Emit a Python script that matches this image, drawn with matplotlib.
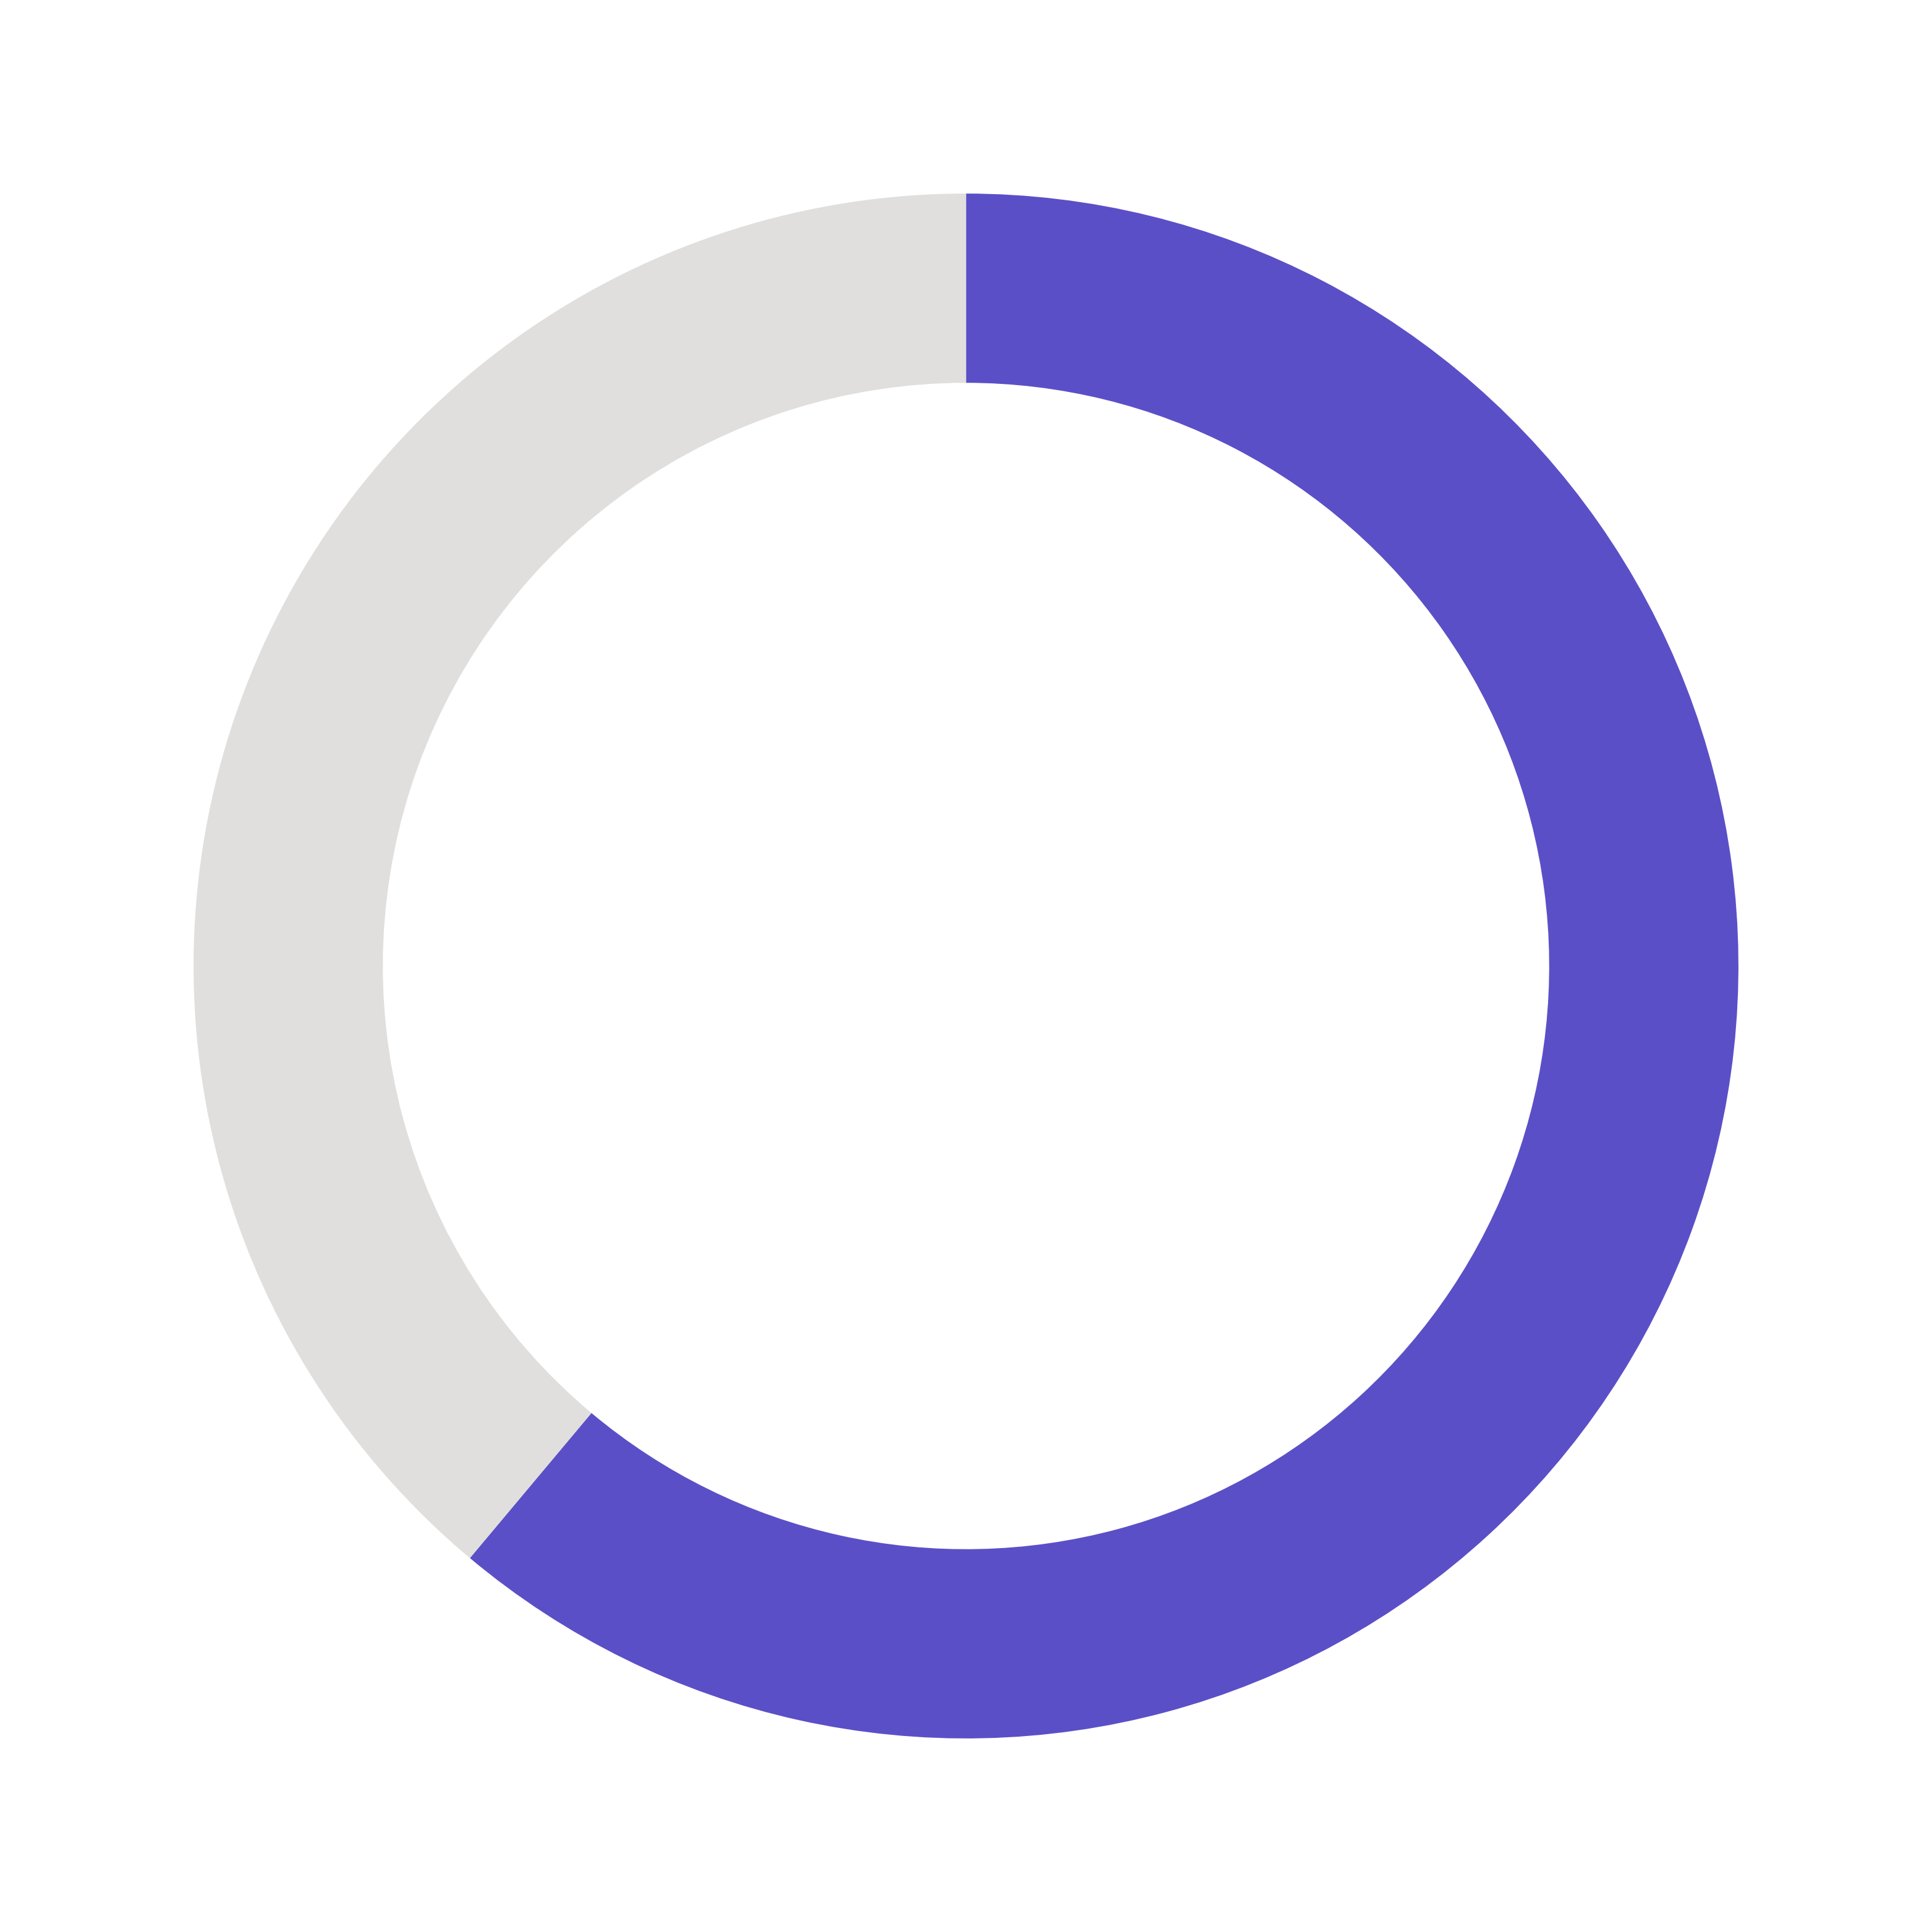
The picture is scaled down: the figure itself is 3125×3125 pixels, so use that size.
import matplotlib
matplotlib.use("Agg")
import matplotlib.pyplot as plt

labels = ["Done", "Remaining"]
values = [61.1, 38.9]
colors = ["#5B4FC7", "#E0DFDD"]

fig = plt.figure(figsize=(3125 / 300, 3125 / 300), dpi=300)
ax = fig.add_axes([0, 0, 1, 1])

ax.pie(
    values,
    colors=colors,
    startangle=90,
    counterclock=False,
    radius=1.0,
    wedgeprops=dict(width=0.245, edgecolor="none", antialiased=True),
)

# outer radius ~0.4 of figure width
ax.set_xlim(-1.2506, 1.2506)
ax.set_ylim(-1.2506, 1.2506)
ax.set_aspect("equal")
ax.axis("off")

fig.savefig("out.png", dpi=300, facecolor="white")
